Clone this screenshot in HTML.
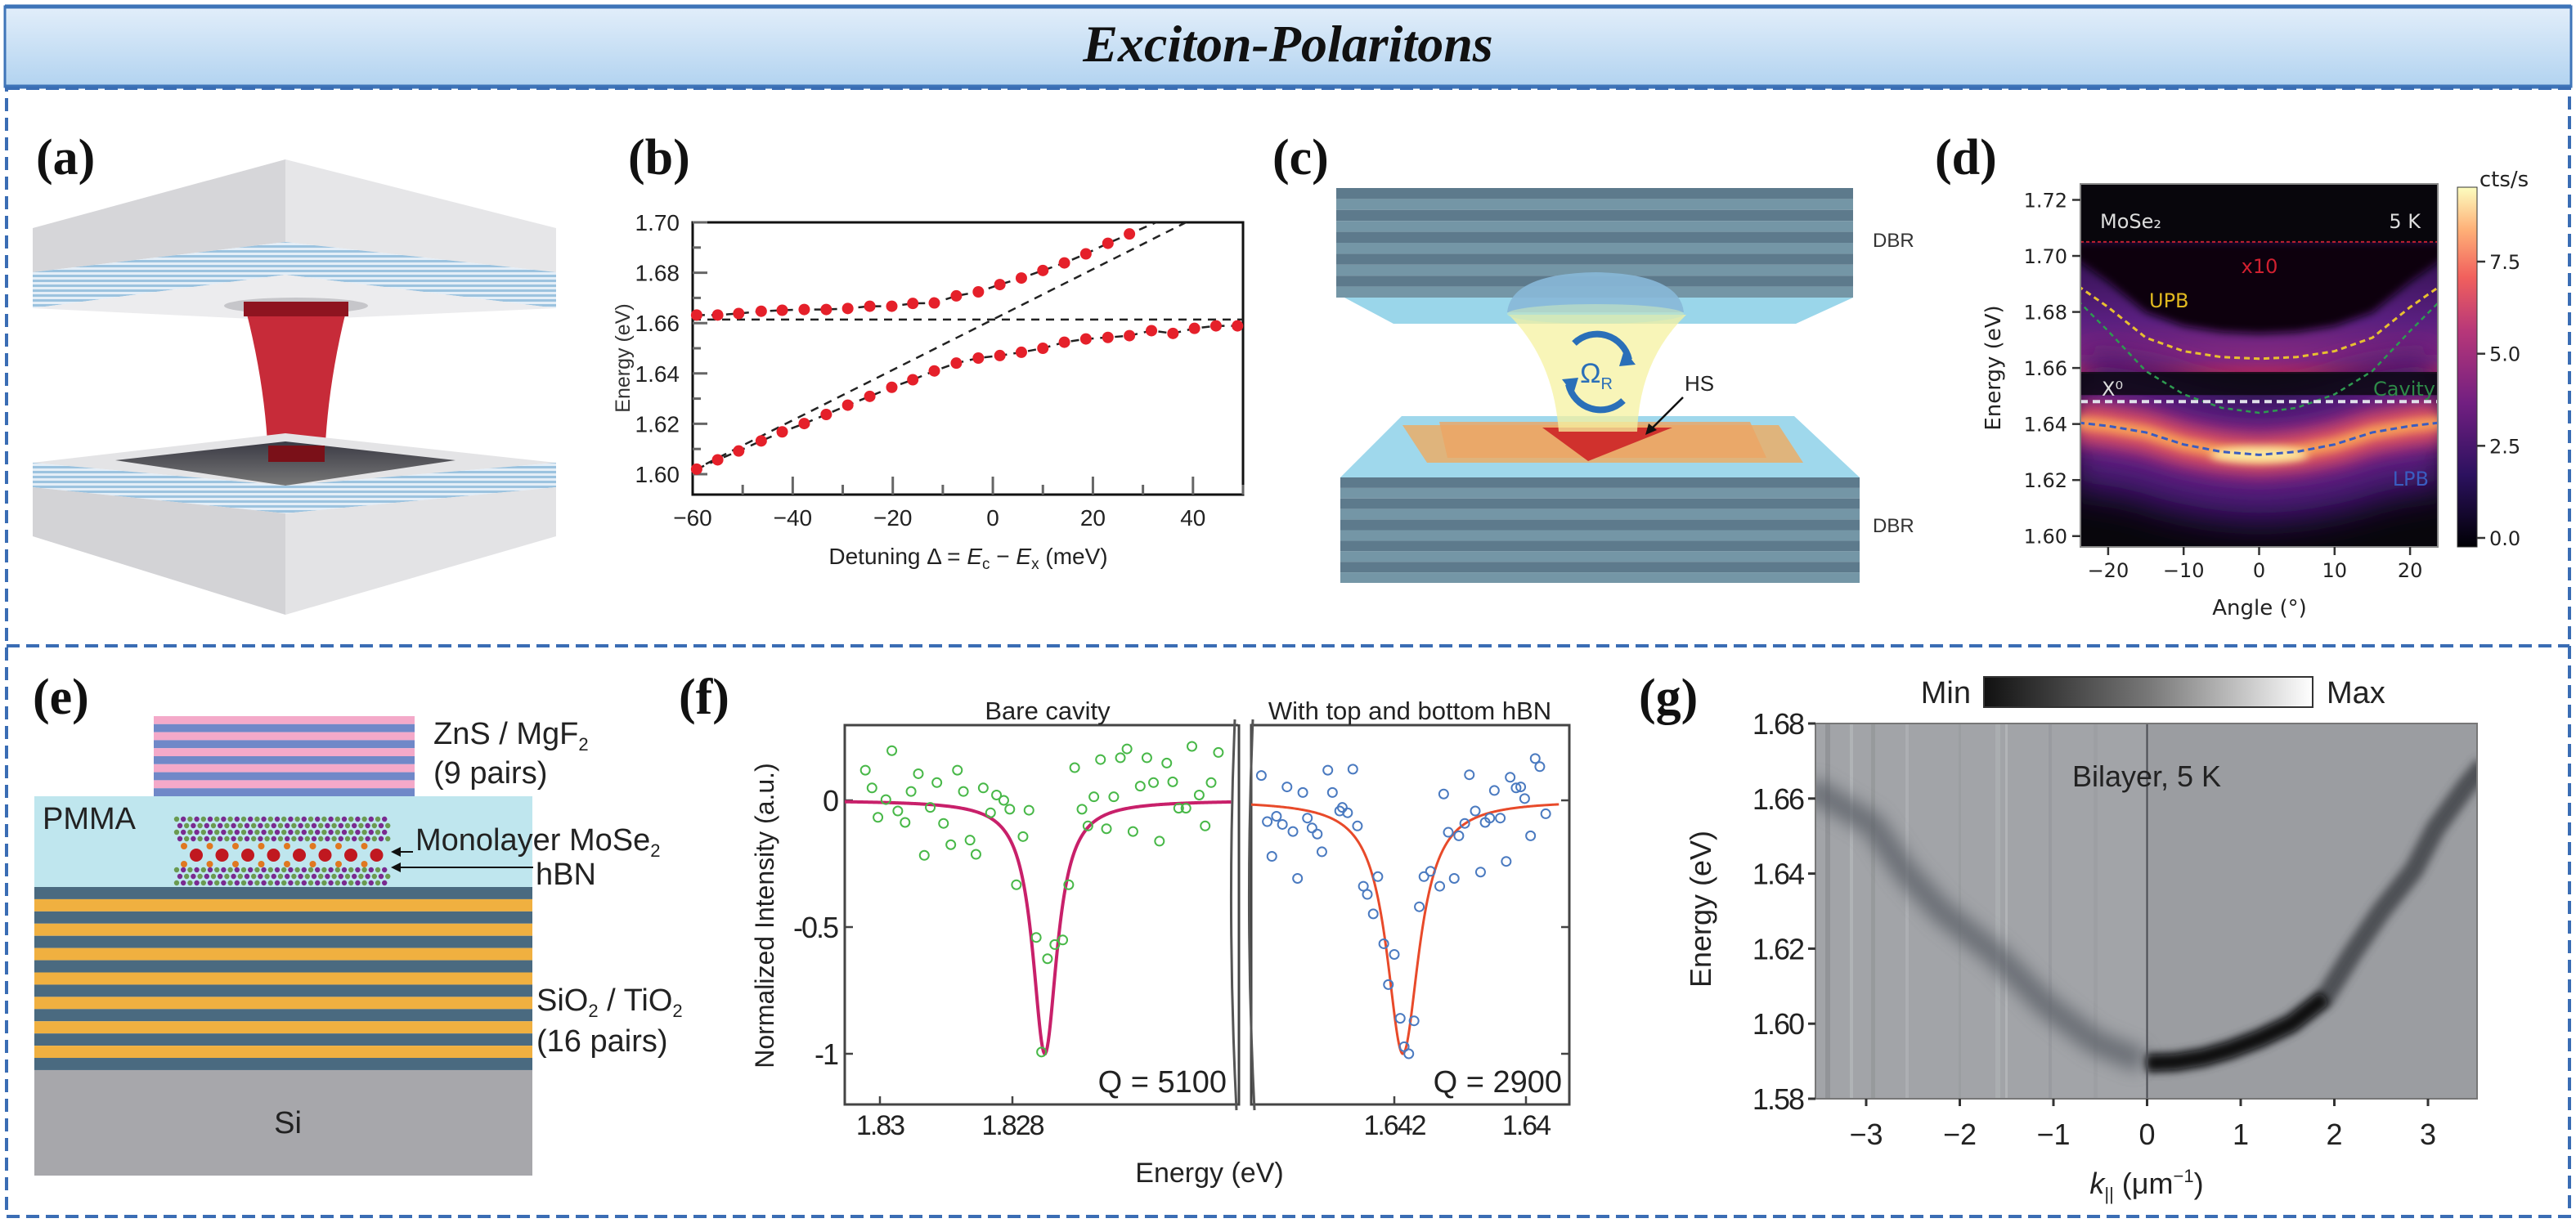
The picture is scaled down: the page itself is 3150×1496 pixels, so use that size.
<!DOCTYPE html>
<html><head><meta charset="utf-8">
<style>
html,body{margin:0;padding:0;background:#fff;}
svg{display:block;font-family:"Liberation Sans",sans-serif;}
.pl{font-family:"Liberation Serif",serif;font-weight:bold;font-size:62px;fill:#111;}
</style></head>
<body>
<svg id="root" width="3150" height="1496" viewBox="0 0 3150 1496" xmlns="http://www.w3.org/2000/svg">
<defs>
<linearGradient id="hdrG" x1="0" y1="0" x2="0" y2="1"><stop offset="0" stop-color="#e2eefa"/><stop offset="1" stop-color="#b2d3f0"/></linearGradient>
<pattern id="mirrorStripe" width="6" height="6" patternUnits="userSpaceOnUse"><rect width="6" height="6" fill="#e4eef7"/><rect width="6" height="3" fill="#9cc3df"/></pattern>
<linearGradient id="holeG" x1="0" y1="0" x2="0" y2="1"><stop offset="0" stop-color="#3a3a44"/><stop offset="1" stop-color="#777"/></linearGradient>
<linearGradient id="magma" x1="0" y1="1" x2="0" y2="0"><stop offset="0" stop-color="#000004"/><stop offset="0.2" stop-color="#2c115f"/><stop offset="0.4" stop-color="#721f81"/><stop offset="0.6" stop-color="#b73779"/><stop offset="0.75" stop-color="#f1605d"/><stop offset="0.88" stop-color="#feaf77"/><stop offset="1" stop-color="#fcfdbf"/></linearGradient>
<linearGradient id="upperG" x1="0" y1="0" x2="0" y2="1"><stop offset="0" stop-color="#2a0f48"/><stop offset="0.6" stop-color="#5a1f80"/><stop offset="0.9" stop-color="#8a2a80"/><stop offset="1" stop-color="#c8305a"/></linearGradient>
<linearGradient id="minmax" x1="0" y1="0" x2="1" y2="0"><stop offset="0" stop-color="#111"/><stop offset="0.5" stop-color="#777"/><stop offset="1" stop-color="#fff"/></linearGradient>
<filter id="blur20" filterUnits="userSpaceOnUse" x="0" y="0" width="3150" height="1496"><feGaussianBlur stdDeviation="20"/></filter>
<filter id="blur10" filterUnits="userSpaceOnUse" x="0" y="0" width="3150" height="1496"><feGaussianBlur stdDeviation="10"/></filter>
<filter id="blur5" filterUnits="userSpaceOnUse" x="0" y="0" width="3150" height="1496"><feGaussianBlur stdDeviation="5"/></filter>
<filter id="blur3" filterUnits="userSpaceOnUse" x="0" y="0" width="3150" height="1496"><feGaussianBlur stdDeviation="3"/></filter>
<clipPath id="clipB"><rect x="847" y="272" width="673" height="333"/></clipPath>
<clipPath id="clipD"><rect x="2544" y="225" width="437" height="444"/></clipPath>
<clipPath id="clipFL"><rect x="1033" y="887" width="482" height="464"/></clipPath>
<clipPath id="clipFR"><rect x="1530" y="887" width="389" height="464"/></clipPath>
<clipPath id="clipG"><rect x="2220" y="885" width="809" height="459"/></clipPath>
</defs>

<!-- header -->
<g>
<rect x="6" y="8" width="3138" height="98" fill="url(#hdrG)" stroke="#3e74b8" stroke-width="3"/>
<line x1="6" y1="8" x2="3144" y2="8" stroke="#3e74b8" stroke-width="5"/>
<line x1="6" y1="106" x2="3144" y2="106" stroke="#3e74b8" stroke-width="5"/>
<text x="1575" y="75" text-anchor="middle" font-family="Liberation Serif,serif" font-weight="bold" font-style="italic" font-size="64" fill="#111">Exciton-Polaritons</text>
</g>
<rect x="8" y="108" width="3134" height="1380" fill="none" stroke="#3a6db4" stroke-width="4" stroke-dasharray="16 8"/>
<line x1="8" y1="790" x2="3142" y2="790" stroke="#3a6db4" stroke-width="4" stroke-dasharray="16 8"/>

<!-- panel a -->
<g>
<text class="pl" x="44" y="213">(a)</text>
<polygon points="40,279 349,195 349,296 40,333" fill="#d6d6d9"/>
<polygon points="349,195 680,279 680,333 349,296" fill="#e6e6e8"/>
<polygon points="40,333 349,296 680,333 680,377 349,336 40,377" fill="url(#mirrorStripe)"/>
<polygon points="40,377 349,336 680,377 349,392" fill="#ececee"/>
<ellipse cx="362" cy="374" rx="88" ry="10" fill="#c6c6ca"/>
<path d="M298,369 L426,369 Q400,470 397,563 L328,563 Q325,470 298,369 Z" fill="#c4202e" opacity="0.95"/>
<rect x="298" y="369" width="128" height="18" fill="#8e1420"/>
<polygon points="40,566 349,530 680,566 349,594" fill="#e4e4e6"/>
<polygon points="141,563 349,540 557,563 349,594" fill="url(#holeG)"/>
<rect x="328" y="545" width="69" height="20" fill="#7a1018"/>
<polygon points="40,566 349,594 680,566 680,596 349,628 40,596" fill="url(#mirrorStripe)"/>
<polygon points="40,596 349,628 349,752 40,656" fill="#d3d3d6"/>
<polygon points="349,628 680,596 680,656 349,752" fill="#e3e3e5"/>
</g>

<!-- panel b -->
<g id="panelB">
<text class="pl" x="768" y="213">(b)</text>
<rect x="847" y="272" width="673" height="333" fill="#fff" stroke="#111" stroke-width="3"/>
<text transform="translate(770,438) rotate(-90)" text-anchor="middle" font-size="25" fill="#333">Energy (eV)</text>
<text x="1184" y="690" text-anchor="middle" font-size="28" fill="#222">Detuning Δ = <tspan font-style="italic">E</tspan><tspan font-size="19" dy="6">c</tspan><tspan dy="-6"> − </tspan><tspan font-style="italic">E</tspan><tspan font-size="19" dy="6">x</tspan><tspan dy="-6"> (meV)</tspan></text>
</g>

<!-- panel c -->
<g>
<text class="pl" x="1556" y="213">(c)</text>
<g id="cTopDBR"></g>
<polygon points="1644,364 2266,364 2196,396 1704,396" fill="#9ad6ea"/>
<g id="cBotDBR"></g>
<polygon points="1714,509 2194,509 2274,584 1639,584" fill="#9fd8ec"/>
<polygon points="1715,520 2175,520 2205,566 1745,566" fill="#e6b070" opacity="0.9"/>
<polygon points="1760,516 2140,516 2160,560 1770,560" fill="#eca564" opacity="0.8"/>
<polygon points="1886,523 2045,523 1942,564" fill="#d0312d"/>
<path d="M1845,385 L2062,385 Q2005,440 2002,528 L1906,528 Q1900,440 1845,385 Z" fill="#f6f2a0" opacity="0.75"/>
<path d="M1843,382 Q1848,335 1951,333 Q2054,335 2059,382 Z" fill="#88b8d8" opacity="0.9"/>
<ellipse cx="1951" cy="384" rx="108" ry="12" fill="#c8e6c0" opacity="0.6"/>
<path d="M1925,420 A40,40 0 0 1 1992,440" fill="none" stroke="#2a6fb8" stroke-width="8"/>
<polygon points="1986,428 2000,446 1980,448" fill="#2a6fb8"/>
<path d="M1985,490 A40,40 0 0 1 1918,470" fill="none" stroke="#2a6fb8" stroke-width="8"/>
<polygon points="1924,482 1910,464 1930,462" fill="#2a6fb8"/>
<text x="1952" y="468" text-anchor="middle" font-size="34" fill="#2a6fb8">Ω<tspan font-size="20" dy="8">R</tspan></text>
<text x="2060" y="478" font-size="26" fill="#222">HS</text>
<line x1="2058" y1="486" x2="2018" y2="526" stroke="#111" stroke-width="2.5"/>
<polygon points="2012,532 2016,518 2026,526" fill="#111"/>
<text x="2290" y="302" font-size="24" fill="#333">DBR</text>
<text x="2290" y="651" font-size="24" fill="#333">DBR</text>
</g>

<!-- panel d -->
<g id="panelD">
<text class="pl" x="2366" y="213">(d)</text>
<text transform="translate(2446,450) rotate(-90)" text-anchor="middle" font-size="26" fill="#222" font-family="DejaVu Sans,sans-serif">Energy (eV)</text>
<text x="2763" y="752" text-anchor="middle" font-size="26" fill="#222" font-family="DejaVu Sans,sans-serif">Angle (°)</text>
<rect x="3005" y="229" width="24" height="440" fill="url(#magma)" stroke="#333" stroke-width="1"/>
<text x="3062" y="228" text-anchor="middle" font-size="26" fill="#222" font-family="DejaVu Sans,sans-serif">cts/s</text>
</g>

<!-- panel e -->
<g>
<text class="pl" x="40" y="873">(e)</text>
<g id="eTop"></g>
<rect x="42" y="974" width="609" height="111" fill="#bfe6ee"/>
<g id="eBot"></g>
<rect x="42" y="1309" width="609" height="129" fill="#a7a7ab"/>
<g id="eMono"></g>
<g font-size="38" fill="#222">
<text x="530" y="910">ZnS / MgF<tspan font-size="22" dy="8">2</tspan></text>
<text x="530" y="958">(9 pairs)</text>
<text x="52" y="1014">PMMA</text>
<text x="508" y="1040">Monolayer MoSe<tspan font-size="22" dy="8">2</tspan></text>
<text x="655" y="1082">hBN</text>
<text x="656" y="1236">SiO<tspan font-size="22" dy="8">2</tspan><tspan dy="-8"> / TiO</tspan><tspan font-size="22" dy="8">2</tspan></text>
<text x="656" y="1286">(16 pairs)</text>
<text x="352" y="1386" text-anchor="middle">Si</text>
</g>
<line x1="505" y1="1042" x2="485" y2="1042" stroke="#111" stroke-width="2"/>
<polygon points="478,1042 490,1036 490,1048" fill="#111"/>
<line x1="652" y1="1061" x2="485" y2="1061" stroke="#111" stroke-width="2"/>
<polygon points="478,1061 490,1055 490,1067" fill="#111"/>
</g>

<!-- panel f -->
<g id="panelF">
<text class="pl" x="830" y="873">(f)</text>
<rect x="1033" y="887" width="482" height="464" fill="#fff" stroke="#444" stroke-width="3"/>
<rect x="1530" y="887" width="389" height="464" fill="#fff" stroke="#444" stroke-width="3"/>
<path d="M1510,880 Q1500,1119 1512,1358" fill="none" stroke="#555" stroke-width="3"/>
<path d="M1532,880 Q1522,1119 1534,1358" fill="none" stroke="#555" stroke-width="3"/>
<rect x="1514" y="880" width="14" height="6" fill="#fff"/>
<text x="1281" y="880" text-anchor="middle" font-size="31" fill="#222">Bare cavity</text>
<text x="1724" y="880" text-anchor="middle" font-size="31" fill="#222">With top and bottom hBN</text>
<text x="1500" y="1336" text-anchor="end" font-size="38" fill="#222">Q = 5100</text>
<text x="1910" y="1336" text-anchor="end" font-size="38" fill="#222">Q = 2900</text>
<text transform="translate(946,1120) rotate(-90)" text-anchor="middle" font-size="32" fill="#222">Normalized Intensity (a.u.)</text>
<text x="1479" y="1446" text-anchor="middle" font-size="34" fill="#222">Energy (eV)</text>
</g>

<!-- panel g -->
<g id="panelG">
<text class="pl" x="2004" y="873">(g)</text>
<rect x="2426" y="828" width="402" height="37" fill="url(#minmax)" stroke="#333" stroke-width="2"/>
<text x="2410" y="860" text-anchor="end" font-size="38" fill="#222">Min</text>
<text x="2845" y="860" font-size="38" fill="#222">Max</text>
<text transform="translate(2092,1112) rotate(-90)" text-anchor="middle" font-size="36" fill="#222">Energy (eV)</text>
<text x="2625" y="1460" text-anchor="middle" font-size="36" fill="#222"><tspan font-style="italic">k</tspan><tspan font-size="22" dy="8">||</tspan><tspan dy="-8"> (μm</tspan><tspan font-size="22" dy="-14">−1</tspan><tspan dy="14">)</tspan></text>
</g>
</svg>

<script>
const NS='http://www.w3.org/2000/svg';
const svg=document.getElementById('root');
function mk(tag,attrs,parent){const e=document.createElementNS(NS,tag);for(const k in attrs)e.setAttribute(k,attrs[k]);(parent||svg).appendChild(e);return e;}
function txt(str,attrs,parent){const e=mk('text',attrs,parent);e.textContent=str;return e;}

/* ===== Panel b data ===== */
const bUpperDetuning=[-59.2,-55,-50.8,-46.3,-42.1,-37.7,-33.3,-29,-24.6,-20.2,-16,-11.7,-7.3,-2.9,1.4,5.7,10,14.3,18.6,23,27.3];
const bUpperEnergy=[1.6632,1.6632,1.6638,1.6647,1.6651,1.6654,1.6654,1.6658,1.6667,1.6667,1.6678,1.668,1.6708,1.6724,1.6753,1.6779,1.6809,1.6839,1.6875,1.6917,1.6954];
const bLowerDetuning=[-59.2,-55,-50.8,-46.3,-42.1,-37.7,-33.3,-29,-24.6,-20.2,-16,-11.7,-7.3,-2.9,1.4,5.7,10,14.3,18.6,23,27.3,31.7,36,40.3,44.6,48.9];
const bLowerEnergy=[1.602,1.6057,1.6092,1.6132,1.6168,1.6201,1.6237,1.6274,1.6309,1.6345,1.6375,1.641,1.6441,1.6461,1.6471,1.6484,1.65,1.6524,1.6537,1.6543,1.655,1.657,1.6559,1.6579,1.6589,1.6589];
const bExcitonEnergy=[1.6614];
const bXTicks=[-60,-40,-20,0,20,40];
const bYTicks=[1.60,1.62,1.64,1.66,1.68,1.70];
const bYTickLabels=['1.60','1.62','1.64','1.66','1.68','1.70'];

const xB=d=>847+(d+60)*6.118, yB=E=>580-(E-1.60)*3080;
{
 const g=document.getElementById('panelB');
 for(let v=-50;v<=50;v+=10){const major=bXTicks.includes(v);const t=mk('line',{x1:xB(v),x2:xB(v),y1:605,y2:major?583:593,stroke:'#666','stroke-width':3},g);
 
 }
 bXTicks.forEach(v=>{const t=txt(v<0?'−'+(-v):String(v),{x:xB(v),y:643,'text-anchor':'middle','font-size':28,fill:'#222'},g);
 
 });
 for(let i=0;i<=10;i++){const E=1.60+i*0.01;const t=mk('line',{x1:847,x2:847+(i%2==0?18:10),y1:yB(E),y2:yB(E),stroke:'#666','stroke-width':3},g);
 
 }
 bYTicks.forEach((v,i)=>{const t=txt(bYTickLabels[i],{x:831,y:yB(v)+10,'text-anchor':'end','font-size':28,fill:'#222'},g);
 
 });
 const c=mk('g',{'clip-path':'url(#clipB)'},g);
 const ex=mk('line',{x1:847,x2:1520,y1:yB(bExcitonEnergy[0]),y2:yB(bExcitonEnergy[0]),stroke:'#222','stroke-width':2.5,'stroke-dasharray':'10 8'},c);
 
 
 const cav=mk('line',{x1:xB(-60),y1:yB(bExcitonEnergy[0]-0.060),x2:xB(50),y2:yB(bExcitonEnergy[0]+0.050),stroke:'#222','stroke-width':2.5,'stroke-dasharray':'10 8'},c);
 
 
 function fitLine(ds,es,name){let pts=ds.map((d,i)=>xB(d)+','+yB(es[i]));const n=ds.length;const sl=(es[n-1]-es[n-2])/(ds[n-1]-ds[n-2]);pts.push(xB(ds[n-1]+10)+','+yB(es[n-1]+sl*10));
  const p=mk('polyline',{points:pts.join(' '),fill:'none',stroke:'#222','stroke-width':2.5,'stroke-dasharray':'10 8'},c);
  
  }
 fitLine(bUpperDetuning,bUpperEnergy,'upper-polariton-fit');
 fitLine(bLowerDetuning,bLowerEnergy,'lower-polariton-fit');
 bUpperDetuning.forEach((d,i)=>{const p=mk('circle',{cx:xB(d),cy:yB(bUpperEnergy[i]),r:7,fill:'#e5202a'},g);
 
 });
 bLowerDetuning.forEach((d,i)=>{const p=mk('circle',{cx:xB(d),cy:yB(bLowerEnergy[i]),r:7,fill:'#e5202a'},g);
 
 });
}

/* ===== Panel c stripes ===== */
{
 const top=document.getElementById('cTopDBR');
 for(let i=0;i<10;i++){mk('rect',{x:1634,y:230+i*13.4,width:632,height:13.4,fill:i%2?'#7496a6':'#5d7a8c'},top);}
 const bot=document.getElementById('cBotDBR');
 for(let i=0;i<10;i++){mk('rect',{x:1639,y:584+i*12.9,width:635,height:12.9,fill:i%2?'#7496a6':'#5d7a8c'},bot);}
}

/* ===== Panel d data ===== */
const dAngles=[-24,-20,-15,-10,-5,0,5,10,15,20,24];
const dLPB=[1.6405,1.6393,1.637,1.6327,1.6301,1.629,1.6301,1.6327,1.637,1.6393,1.6405];
const dUPB=[1.6893,1.6817,1.6708,1.666,1.6639,1.6633,1.6639,1.666,1.6708,1.6817,1.6893];
const dCavity=[1.684,1.6732,1.6589,1.6506,1.6458,1.644,1.6458,1.6506,1.6589,1.6732,1.684];
const dExciton=[1.648];
const dCutoff=[1.705,1.658];
const dYTicks=[1.60,1.62,1.64,1.66,1.68,1.70,1.72];
const dXTicks=[-20,-10,0,10,20];
const dCbTicks=[0,2.5,5.0,7.5];
const dCbLabels=['0.0','2.5','5.0','7.5'];
const xD=a=>2762.5+a*9.23, yD=E=>244.5+(1.72-E)*3427;
{
 const g=document.getElementById('panelD');
 const c=mk('g',{'clip-path':'url(#clipD)'},g);
 const bg=mk('rect',{x:2544,y:225,width:437,height:444,fill:'#08060c'},c);
 
 
 const up=mk('rect',{x:2544,y:yD(dCutoff[0]),width:437,height:yD(dCutoff[1])-yD(dCutoff[0]),fill:'url(#upperG)'},c);
 
 
 const curve=(arr,off)=>dAngles.map((a,i)=>xD(a)+','+yD(arr[i]+off)).join(' L');
 const dome=mk('path',{d:'M2520,'+yD(dCutoff[0])+' L'+curve(dUPB,0.009)+' L3000,'+yD(dCutoff[0])+' Z',fill:'#08060c',filter:'url(#blur5)'},c);
 
 
 mk('rect',{x:2544,y:yD(dCutoff[0])-8,width:437,height:8,fill:'#08060c'},c);
 const mid=mk('rect',{x:2544,y:yD(dCutoff[1]),width:437,height:yD(dExciton[0])-yD(dCutoff[1]),fill:'#0c0812'},c);
 
 
 const lp='M'+curve(dLPB,0);
 const glow=[['#3a1668',170,'url(#blur20)',1],['#6a2288',100,'url(#blur20)',0.9],['#b83470',55,'url(#blur10)',0.9],['#f06a58',30,'url(#blur10)',0.9],['#f8a858',14,'url(#blur5)',0.9]];
 glow.forEach(s=>{const p=mk('path',{d:lp,fill:'none',stroke:s[0],'stroke-width':s[1],filter:s[2],opacity:s[3]},c);
 
 });
 const core=mk('ellipse',{cx:xD(0),cy:yD(dLPB[5]),rx:60,ry:10,fill:'#fce8a0',filter:'url(#blur5)'},c);
 
 
 mk('rect',{x:2544,y:yD(dCutoff[1])-2,width:437,height:yD(dExciton[0])-yD(dCutoff[1])-6,fill:'#0c0812',opacity:0.85},c);
 function dl(arr,col,w,dash,name){const p=mk('path',{d:'M'+curve(arr,0),fill:'none',stroke:col,'stroke-width':w,'stroke-dasharray':dash},c);
  
  }
 dl(dUPB,'#e8c030',3,'7 5','upb-curve');
 dl(dCavity,'#2e9a50',2.5,'6 5','cavity-curve');
 dl(dLPB,'#3a5cc0',3,'8 5','lpb-curve');
 const xl=mk('line',{x1:2544,x2:2981,y1:yD(dExciton[0]),y2:yD(dExciton[0]),stroke:'#e0e0ea','stroke-width':4,'stroke-dasharray':'9 6'},c);
 
 
 const rl=mk('line',{x1:2544,x2:2981,y1:yD(dCutoff[0]),y2:yD(dCutoff[0]),stroke:'#c02030','stroke-width':2,'stroke-dasharray':'4 3'},c);
 
 
 mk('rect',{x:2544,y:225,width:437,height:444,fill:'none',stroke:'#888','stroke-width':2},g);
 const labs=[['MoSe₂',2568,279,'#ddd','start','mose2-label-d'],['5 K',2960,279,'#ddd','end','temperature-label-d'],['x10',2763,334,'#d02030','middle','x10-label'],['UPB',2628,376,'#e0b820','start','upb-label'],['X⁰',2570,484,'#ddd','start','exciton-label-d'],['Cavity',2978,484,'#2e8a48','end','cavity-label'],['LPB',2970,594,'#3a5cc0','end','lpb-label']];
 labs.forEach(l=>{const t=txt(l[0],{x:l[1],y:l[2],fill:l[3],'text-anchor':l[4],'font-size':24,'font-family':'DejaVu Sans,sans-serif'},g);
 
 });
 dYTicks.forEach(v=>{const tk=mk('line',{x1:2534,x2:2544,y1:yD(v),y2:yD(v),stroke:'#333','stroke-width':2.5},g);
 
 
 const t=txt(v.toFixed(2),{x:2528,y:yD(v)+9,'text-anchor':'end','font-size':24,fill:'#222','font-family':'DejaVu Sans,sans-serif'},g);
 
 });
 dXTicks.forEach(v=>{const tk=mk('line',{x1:xD(v),x2:xD(v),y1:669,y2:679,stroke:'#333','stroke-width':2.5},g);
 
 
 const t=txt(v<0?'−'+(-v):String(v),{x:xD(v),y:706,'text-anchor':'middle','font-size':24,fill:'#222','font-family':'DejaVu Sans,sans-serif'},g);
 
 });
 const yCb=v=>658-v*(338/7.5);
 dCbTicks.forEach((v,i)=>{const tk=mk('line',{x1:3029,x2:3039,y1:yCb(v),y2:yCb(v),stroke:'#333','stroke-width':2.5},g);
 
 
 const t=txt(dCbLabels[i],{x:3044,y:yCb(v)+9,'font-size':24,fill:'#222','font-family':'DejaVu Sans,sans-serif'},g);
 
 });
}

/* ===== Panel e ===== */
{
 const top=document.getElementById('eTop');
 for(let i=0;i<10;i++){mk('rect',{x:188,y:876+i*9.8,width:319,height:9.8,fill:i%2?'#7088c8':'#f4a9c9'},top);}
 const bot=document.getElementById('eBot');
 for(let i=0;i<15;i++){mk('rect',{x:42,y:1085+i*14.93,width:609,height:14.93,fill:i%2?'#f0b040':'#4a6a80'},bot);}
 const m=document.getElementById('eMono');
 for(let r=0;r<4;r++)for(let i=0;i<32;i++){mk('circle',{cx:216+i*8.2+(r%2)*4,cy:1002+r*8,r:3.2,fill:(i+r)%2?'#7a2a90':'#6a9a50'},m);}
 for(let r=0;r<3;r++)for(let i=0;i<32;i++){mk('circle',{cx:216+i*8.2+(r%2)*4,cy:1064+r*8,r:3.2,fill:(i+r)%2?'#7a2a90':'#6a9a50'},m);}
 for(let i=0;i<8;i++){mk('circle',{cx:240+i*31.5,cy:1046,r:8,fill:'#c01820'},m);
  mk('circle',{cx:225+i*31.5,cy:1035,r:4,fill:'#e07820'},m);mk('circle',{cx:225+i*31.5,cy:1057,r:4,fill:'#e07820'},m);}
}

/* ===== Panel f data ===== */
const fBareEnergy=[1.83022,1.83012,1.83003,1.82991,1.82982,1.82973,1.82962,1.82953,1.82942,1.82933,1.82924,1.82914,1.82904,1.82893,1.82883,1.82874,1.82864,1.82855,1.82844,1.82833,1.82824,1.82813,1.82804,1.82794,1.82784,1.82775,1.82764,1.82756,1.82747,1.82736,1.82724,1.82715,1.82706,1.82695,1.82686,1.82677,1.82667,1.82658,1.82647,1.82637,1.82627,1.82618,1.82607,1.82597,1.82587,1.82578,1.82567,1.82558,1.82549,1.82538,1.82529,1.82518,1.82509,1.825,1.82489];
const fBareIntensity=[0.119,0.049,-0.067,0.003,0.196,-0.042,-0.087,0.035,0.105,-0.217,-0.028,0.07,-0.091,-0.175,0.119,0.035,-0.157,-0.213,0.049,-0.049,0.021,0,-0.035,-0.333,-0.143,-0.039,-0.541,-0.993,-0.625,-0.569,-0.551,-0.333,0.129,-0.035,-0.101,0.014,0.161,-0.112,0.014,0.168,0.203,-0.123,0.056,0.168,0.07,-0.161,0.147,0.073,-0.031,-0.031,0.213,0.021,-0.101,0.07,0.189];
const fHbnEnergy=[1.64402,1.64393,1.64386,1.64379,1.6437,1.64363,1.64354,1.64347,1.64339,1.64332,1.64325,1.64317,1.6431,1.64301,1.64294,1.64283,1.64279,1.64271,1.64263,1.64256,1.64247,1.64241,1.64232,1.64225,1.64216,1.64209,1.642,1.64191,1.64185,1.64178,1.6417,1.64162,1.64155,1.64145,1.64131,1.64125,1.64118,1.64109,1.64102,1.64093,1.64086,1.64077,1.64069,1.64062,1.64055,1.64048,1.64039,1.6403,1.64024,1.64015,1.64008,1.64002,1.63993,1.63986,1.63979,1.6397];
const fHbnIntensity=[0.098,-0.084,-0.221,-0.063,-0.095,0.053,-0.123,-0.308,0.031,-0.07,-0.109,-0.133,-0.203,0.119,0.031,-0.042,-0.028,-0.049,0.123,-0.101,-0.339,-0.371,-0.448,-0.301,-0.566,-0.727,-0.608,-0.86,-0.972,-1.0,-0.87,-0.42,-0.301,-0.28,-0.339,0.025,-0.126,-0.308,-0.14,-0.091,0.101,-0.042,-0.283,-0.087,-0.07,0.039,-0.07,-0.241,0.091,0.049,0.053,0.007,-0.14,0.165,0.133,-0.053];
const fFitCenter=[1.82751,1.64187];
const fFitWidth=[0.00045,0.0006];
const fYTicks=[0,-0.5,-1];
const fYTickLabels=['0','-0.5','-1'];
const fLeftXTicks=[1.83,1.828];
const fRightXTicks=[1.642,1.64];
const xFL=E=>1076+(1.83-E)*81000, xFR=E=>1705+(1.642-E)*80500, yF=v=>979-v*310;
{
 const g=document.getElementById('panelF');
 fYTicks.forEach((v,i)=>{const t=txt(fYTickLabels[i],{x:1024,y:yF(v)+13,'text-anchor':'end','font-size':36,fill:'#222','letter-spacing':'-2'},g);
 
 
 const a=mk('line',{x1:1033,x2:1043,y1:yF(v),y2:yF(v),stroke:'#444','stroke-width':2.5},g);
 
 
 const b=mk('line',{x1:1909,x2:1919,y1:yF(v),y2:yF(v),stroke:'#444','stroke-width':2.5},g);
 
 });
 fLeftXTicks.forEach(v=>{const t=txt(String(v),{x:xFL(v),y:1388,'text-anchor':'middle','font-size':34,fill:'#222','letter-spacing':'-2'},g);
 
 
 const k=mk('line',{x1:xFL(v),x2:xFL(v),y1:1351,y2:1341,stroke:'#444','stroke-width':2.5},g);
 
 });
 fRightXTicks.forEach(v=>{const t=txt(String(v),{x:xFR(v),y:1388,'text-anchor':'middle','font-size':34,fill:'#222','letter-spacing':'-2'},g);
 
 
 const k=mk('line',{x1:xFR(v),x2:xFR(v),y1:1351,y2:1341,stroke:'#444','stroke-width':2.5},g);
 
 });
 const lor=(E,c,w)=>-1/(1+Math.pow((E-c)/(w/2),2));
 const cl=mk('g',{'clip-path':'url(#clipFL)'},g);
 const cr=mk('g',{'clip-path':'url(#clipFR)'},g);
 let pl=[],pr=[];
 for(let i=0;i<=400;i++){const E=1.8306-i*(0.0059/400);pl.push(xFL(E)+','+yF(lor(E,fFitCenter[0],fFitWidth[0])));}
 for(let i=0;i<=400;i++){const E=1.6442-i*(0.0047/400);pr.push(xFR(E)+','+yF(lor(E,fFitCenter[1],fFitWidth[1])));}
 const fl=mk('polyline',{points:pl.join(' '),fill:'none',stroke:'#c8206a','stroke-width':4},cl);
 
 
 const fr=mk('polyline',{points:pr.join(' '),fill:'none',stroke:'#e84a2a','stroke-width':3},cr);
 
 
 fBareEnergy.forEach((E,i)=>{const p=mk('circle',{cx:xFL(E),cy:yF(fBareIntensity[i]),r:5.5,fill:'none',stroke:'#48b848','stroke-width':2},g);
 
 });
 fHbnEnergy.forEach((E,i)=>{const p=mk('circle',{cx:xFR(E),cy:yF(fHbnIntensity[i]),r:5.5,fill:'none',stroke:'#4a7ac0','stroke-width':2},g);
 
 });
}

/* ===== Panel g data ===== */
const gRightK=[0,0.3,0.6,0.88,1.2,1.54,1.9,2.2,2.5,2.85,3.08,3.4,3.6];
const gRightE=[1.5895,1.5898,1.591,1.593,1.596,1.600,1.607,1.619,1.630,1.641,1.652,1.663,1.669];
const gLeftK=[-0.05,-0.55,-1.08,-1.6,-2.2,-2.6,-2.93,-3.4,-3.6];
const gLeftE=[1.590,1.595,1.605,1.618,1.630,1.641,1.653,1.660,1.663];
const gYTicks=[1.58,1.60,1.62,1.64,1.66,1.68];
const gXTicks=[-3,-2,-1,0,1,2,3];
const xG=k=>2625.5+k*114.5, yG=E=>885+(1.68-E)*4590;
{
 const g=document.getElementById('panelG');
 const c=mk('g',{'clip-path':'url(#clipG)'},g);
 const bg=mk('rect',{x:2220,y:885,width:809,height:459,fill:'#9b9da1'},c);
 
 
 mk('rect',{x:2220,y:885,width:405,height:459,fill:'#a2a4a8'},c);
 const streaks=[[2232,6,'#8e9094'],[2262,4,'#b4b6b9'],[2288,5,'#959799'],[2330,4,'#b0b2b5'],[2395,3,'#9a9c9f'],[2440,6,'#aeb0b3'],[2452,3,'#b6b8ba'],[2505,4,'#97999d'],[2560,5,'#9c9ea1']];
 streaks.forEach(s=>mk('rect',{x:s[0],y:885,width:s[1],height:459,fill:s[2],opacity:0.8},c));
 const lp=gLeftK.map((k,i)=>xG(k)+','+yG(gLeftE[i])).join(' L');
 const l1=mk('path',{d:'M'+lp,fill:'none',stroke:'#5a5e66','stroke-width':30,'stroke-linejoin':'round',filter:'url(#blur10)',opacity:0.75},c);
 
 
 const rp=gRightK.map((k,i)=>xG(k)+','+yG(gRightE[i])).join(' L');
 const r1=mk('path',{d:'M'+rp,fill:'none',stroke:'#3a3c42','stroke-width':24,'stroke-linejoin':'round',filter:'url(#blur5)',opacity:0.8},c);
 
 
 const rLow=gRightK.slice(0,7).map((k,i)=>xG(k)+','+yG(gRightE[i])).join(' L');
 const r2=mk('path',{d:'M'+rLow,fill:'none',stroke:'#0c0c10','stroke-width':18,'stroke-linejoin':'round',filter:'url(#blur5)'},c);
 
 
 mk('line',{x1:xG(0),x2:xG(0),y1:885,y2:1344,stroke:'#4a4c52','stroke-width':2},c);
 mk('rect',{x:2220,y:885,width:809,height:459,fill:'none',stroke:'#777','stroke-width':2},g);
 const bl=txt('Bilayer, 5 K',{x:2625,y:962,'text-anchor':'middle','font-size':36,fill:'#222'},g);
 
 
 gYTicks.forEach(v=>{const tk=mk('line',{x1:2211,x2:2220,y1:yG(v),y2:yG(v),stroke:'#333','stroke-width':3},g);
 
 
 const t=txt(v.toFixed(2),{x:2205,y:yG(v)+13,'text-anchor':'end','font-size':36,fill:'#222','letter-spacing':'-2'},g);
 
 });
 gXTicks.forEach(v=>{const tk=mk('line',{x1:xG(v),x2:xG(v),y1:1344,y2:1353,stroke:'#333','stroke-width':3},g);
 
 
 const t=txt(v<0?'−'+(-v):String(v),{x:xG(v),y:1400,'text-anchor':'middle','font-size':36,fill:'#222'},g);
 
 });
}
</script>
</body></html>
